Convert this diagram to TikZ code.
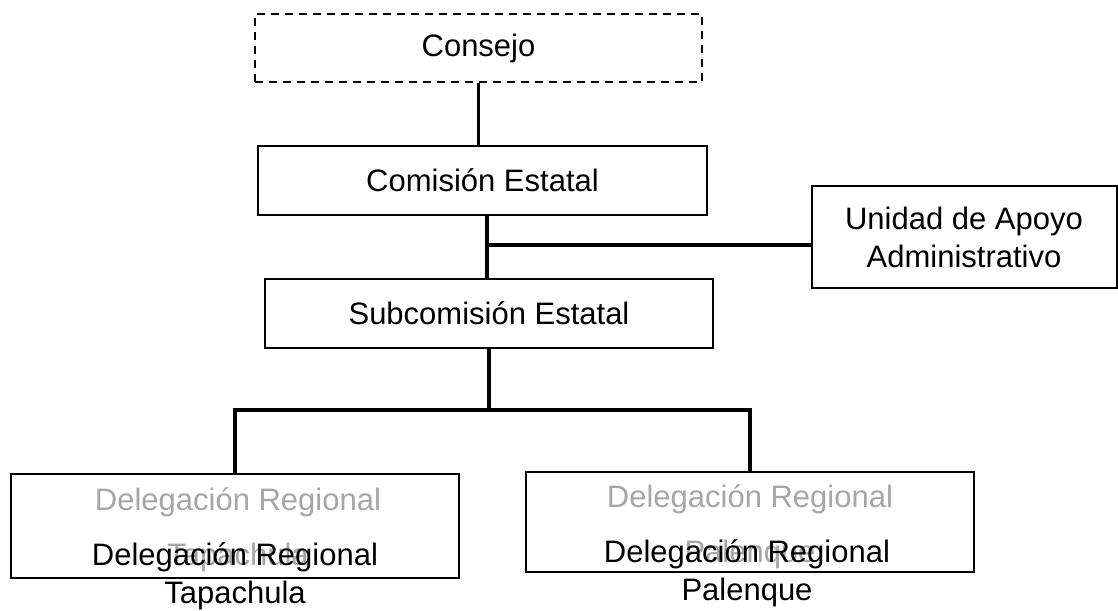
\documentclass[tikz,border=0pt]{standalone}
\usepackage{fontspec}
\setmainfont{Liberation Sans}
\usepackage{tikz}

\begin{document}
\begin{tikzpicture}[x=0.5pt,y=-0.5pt,
		box/.style={shape=rectangle,draw=black,line width=1pt,fill=white,inner sep=0pt},
		link/.style={line width=1.6pt},
		txt/.style={font=\fontsize{15.5}{19}\selectfont,align=center},
		ghost/.style={font=\fontsize{15.5}{27.5}\selectfont,align=center,text=black!35}]
		\useasboundingbox (0,0) rectangle (1118,610);
		\node [box,txt,dashed,dash pattern=on 4pt off 3pt,minimum width=223.5pt,minimum height=34pt] (consejo) at (478.5,48) {Consejo};
		\node [box,txt,minimum width=224.5pt,minimum height=34.5pt] (comision) at (482.5,180.5) {Comisión Estatal};
		\node [box,txt,minimum width=224pt,minimum height=34.5pt] (subcom) at (489,313.5) {Subcomisión Estatal};
		\node [box,txt,minimum width=152.5pt,minimum height=51pt] (unidad) at (964,237) {Unidad de Apoyo\\Administrativo};
		\node [box,minimum width=224pt,minimum height=52pt] (tapbox) at (235,526) {};
		\node [box,minimum width=224pt,minimum height=50pt] (palbox) at (750,522) {};
		\node [ghost] (tapgray) at (238,529.5) {Delegación Regional\\Tapachula};
		\node [ghost] (palgray) at (750,526.5) {Delegación Regional\\Palenque};
		\node [txt] (tapname) at (235,576) {Delegación Regional\\Tapachula};
		\node [txt] (palname) at (747,573.5) {Delegación Regional\\Palenque};
		\coordinate (j1) at (487,245);
		\coordinate (j2) at (485,410);
		\draw [link] (consejo.south) -- (consejo.south |- comision.north);
		\draw [link] (j1 |- comision.south) -- (j1 |- subcom.north);
		\draw [link] (j1) -- (j1 -| unidad.west);
		\draw [link] (subcom.south) -- (subcom.south |- j2);
		\draw [link] (tapbox.north) |- (j2) -| (palbox.north);
	\end{tikzpicture}
\end{document}
